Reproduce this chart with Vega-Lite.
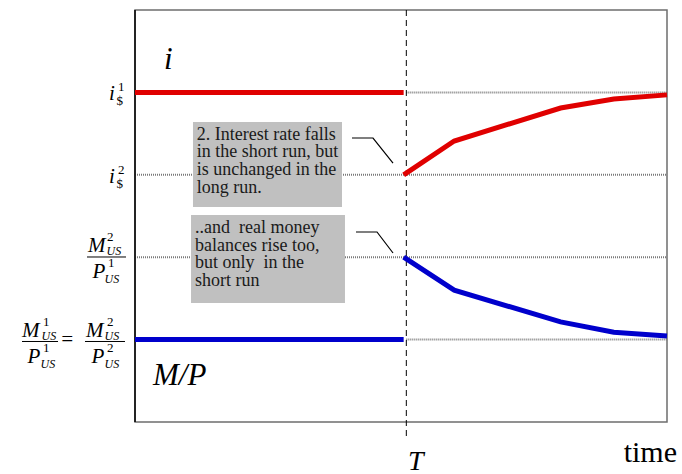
{
  "$schema": "https://vega.github.io/schema/vega-lite/v6.json",
  "width": 532,
  "height": 412,
  "autosize": {"type": "none"},
  "padding": {"left": 135, "top": 10, "right": 15, "bottom": 52},
  "background": "white",
  "config": {
    "view": {"stroke": "#6e6e6e", "strokeWidth": 1.5},
    "text": {"font": "Liberation Serif"}
  },
  "datasets": {
    "dotted": [
      {"x": 51, "x2": 100, "y": 80},
      {"x": 0, "x2": 100, "y": 60},
      {"x": 0, "x2": 100, "y": 40},
      {"x": 51, "x2": 100, "y": 20}
    ],
    "frameLeft": [{"x": 0, "y": 0, "y2": 100}],
    "shock": [{"x": 51, "y": 100, "y2": -3.6}],
    "paths": [
      {"series": "i", "seg": "a", "x": 0, "y": 80},
      {"series": "i", "seg": "a", "x": 50.5, "y": 80},
      {"series": "i", "seg": "b", "x": 50.5, "y": 60},
      {"series": "i", "seg": "b", "x": 60, "y": 68.2},
      {"series": "i", "seg": "b", "x": 80, "y": 76.2},
      {"series": "i", "seg": "b", "x": 90, "y": 78.4},
      {"series": "i", "seg": "b", "x": 100, "y": 79.4},
      {"series": "M/P", "seg": "c", "x": 0, "y": 20},
      {"series": "M/P", "seg": "c", "x": 50.5, "y": 20},
      {"series": "M/P", "seg": "d", "x": 50.5, "y": 40},
      {"series": "M/P", "seg": "d", "x": 60, "y": 32},
      {"series": "M/P", "seg": "d", "x": 80, "y": 24.3},
      {"series": "M/P", "seg": "d", "x": 90, "y": 21.8},
      {"series": "M/P", "seg": "d", "x": 100, "y": 20.9}
    ],
    "boxes": [
      {"x": 10.9, "x2": 38.91, "y": 72.82, "y2": 52.18},
      {"x": 10.53, "x2": 39.47, "y": 50.24, "y2": 28.88}
    ],
    "notes": [
      {"x": 11.6, "y": 71.9, "text": "2. Interest rate falls\nin the short run, but\nis unchanged in the\nlong run."},
      {"x": 11.28, "y": 49.2, "text": "..and\u00a0 real money\nbalances rise too,\nbut only\u00a0 in the\nshort run"}
    ],
    "leaders": [
      {"id": 1, "k": 1, "x": 40.79, "y": 68.93},
      {"id": 1, "k": 2, "x": 44.74, "y": 68.93},
      {"id": 1, "k": 3, "x": 48.5, "y": 62.86},
      {"id": 2, "k": 1, "x": 41.54, "y": 46.12},
      {"id": 2, "k": 2, "x": 45.49, "y": 46.12},
      {"id": 2, "k": 3, "x": 48.5, "y": 41.02}
    ],
    "fracBars": [
      {"x": -9.02, "x2": -1.69, "y": 40.05},
      {"x": -21.24, "x2": -14.47, "y": 19.54},
      {"x": -9.4, "x2": -1.88, "y": 19.54}
    ],
    "mathBig": [
      {"text": "i", "x": -4.89, "y": 78.2},
      {"text": "i", "x": -4.89, "y": 58.0},
      {"text": "M", "x": -8.85, "y": 41.26},
      {"text": "P", "x": -7.99, "y": 34.95},
      {"text": "M", "x": -21.25, "y": 20.75},
      {"text": "P", "x": -20.21, "y": 14.44},
      {"text": "=", "x": -14.1, "y": 18.45},
      {"text": "M", "x": -9.22, "y": 20.75},
      {"text": "P", "x": -8.18, "y": 14.44}
    ],
    "mathSup": [
      {"text": "1", "x": -3.2, "y": 80.3},
      {"text": "$", "x": -3.5, "y": 76.9},
      {"text": "2", "x": -3.2, "y": 60.2},
      {"text": "$", "x": -3.5, "y": 56.8},
      {"text": "2", "x": -5.25, "y": 43.93},
      {"text": "1", "x": -5.06, "y": 37.62},
      {"text": "1", "x": -17.28, "y": 23.42},
      {"text": "1", "x": -17.28, "y": 17.11},
      {"text": "2", "x": -5.25, "y": 23.42},
      {"text": "2", "x": -5.25, "y": 17.11}
    ],
    "mathSub": [
      {"text": "US", "x": -5.34, "y": 40.5},
      {"text": "US", "x": -5.72, "y": 33.7},
      {"text": "US", "x": -17.56, "y": 19.99},
      {"text": "US", "x": -17.75, "y": 13.19},
      {"text": "US", "x": -5.72, "y": 19.99},
      {"text": "US", "x": -5.72, "y": 13.19}
    ],
    "seriesLabels": [
      {"text": "i", "x": 5.45, "y": 85.68},
      {"text": "M/P", "x": 3.38, "y": 8.98}
    ],
    "shockLabel": [{"text": "T", "x": 52.8, "y": -11.6}],
    "timeLabel": [{"text": "time", "x": 101.88, "y": -9.71}]
  },
  "layer": [
    {
      "data": {"name": "dotted"},
      "mark": {"type": "rule", "stroke": "#7a7a7a", "strokeWidth": 2, "strokeDash": [1, 1]},
      "encoding": {
        "x": {"field": "x", "type": "quantitative", "scale": {"domain": [0, 100], "nice": false, "zero": false}, "axis": null},
        "x2": {"field": "x2"},
        "y": {"field": "y", "type": "quantitative", "scale": {"domain": [0, 100], "nice": false, "zero": false}, "axis": null}
      }
    },
    {
      "data": {"name": "frameLeft"},
      "mark": {"type": "rule", "stroke": "#000000", "strokeWidth": 1.5},
      "encoding": {
        "x": {"field": "x", "type": "quantitative"},
        "y": {"field": "y", "type": "quantitative"},
        "y2": {"field": "y2"}
      }
    },
    {
      "data": {"name": "shock"},
      "mark": {"type": "rule", "stroke": "#000000", "strokeWidth": 1, "strokeDash": [6, 4]},
      "encoding": {
        "x": {"field": "x", "type": "quantitative"},
        "y": {"field": "y", "type": "quantitative"},
        "y2": {"field": "y2"}
      }
    },
    {
      "data": {"name": "paths"},
      "mark": {"type": "line", "strokeWidth": 5, "strokeCap": "butt"},
      "encoding": {
        "x": {"field": "x", "type": "quantitative"},
        "y": {"field": "y", "type": "quantitative"},
        "detail": {"field": "seg"},
        "color": {"field": "series", "type": "nominal", "scale": {"domain": ["i", "M/P"], "range": ["#e00000", "#0000cc"]}, "legend": null}
      }
    },
    {
      "data": {"name": "boxes"},
      "mark": {"type": "rect", "fill": "#c0c0c0"},
      "encoding": {
        "x": {"field": "x", "type": "quantitative"},
        "x2": {"field": "x2"},
        "y": {"field": "y", "type": "quantitative"},
        "y2": {"field": "y2"}
      }
    },
    {
      "data": {"name": "notes"},
      "mark": {"type": "text", "align": "left", "baseline": "top", "fontSize": 18, "lineHeight": 17.6, "lineBreak": "\n", "color": "#1a1a1a"},
      "encoding": {
        "x": {"field": "x", "type": "quantitative"},
        "y": {"field": "y", "type": "quantitative"},
        "text": {"field": "text"}
      }
    },
    {
      "data": {"name": "leaders"},
      "mark": {"type": "line", "stroke": "#000000", "strokeWidth": 1.2},
      "encoding": {
        "x": {"field": "x", "type": "quantitative"},
        "y": {"field": "y", "type": "quantitative"},
        "detail": {"field": "id"},
        "order": {"field": "k"}
      }
    },
    {
      "data": {"name": "fracBars"},
      "mark": {"type": "rule", "stroke": "#000000", "strokeWidth": 1},
      "encoding": {
        "x": {"field": "x", "type": "quantitative"},
        "x2": {"field": "x2"},
        "y": {"field": "y", "type": "quantitative"}
      }
    },
    {
      "data": {"name": "mathBig"},
      "mark": {"type": "text", "align": "left", "baseline": "alphabetic", "fontSize": 21, "fontStyle": "italic", "color": "#000000"},
      "encoding": {
        "x": {"field": "x", "type": "quantitative"},
        "y": {"field": "y", "type": "quantitative"},
        "text": {"field": "text"}
      }
    },
    {
      "data": {"name": "mathSup"},
      "mark": {"type": "text", "align": "left", "baseline": "alphabetic", "fontSize": 13, "color": "#000000"},
      "encoding": {
        "x": {"field": "x", "type": "quantitative"},
        "y": {"field": "y", "type": "quantitative"},
        "text": {"field": "text"}
      }
    },
    {
      "data": {"name": "mathSub"},
      "mark": {"type": "text", "align": "left", "baseline": "alphabetic", "fontSize": 12, "fontStyle": "italic", "color": "#000000"},
      "encoding": {
        "x": {"field": "x", "type": "quantitative"},
        "y": {"field": "y", "type": "quantitative"},
        "text": {"field": "text"}
      }
    },
    {
      "data": {"name": "seriesLabels"},
      "mark": {"type": "text", "align": "left", "baseline": "alphabetic", "fontSize": 31, "fontStyle": "italic", "color": "#000000"},
      "encoding": {
        "x": {"field": "x", "type": "quantitative"},
        "y": {"field": "y", "type": "quantitative"},
        "text": {"field": "text"}
      }
    },
    {
      "data": {"name": "shockLabel"},
      "mark": {"type": "text", "align": "center", "baseline": "alphabetic", "fontSize": 28, "fontStyle": "italic", "color": "#000000"},
      "encoding": {
        "x": {"field": "x", "type": "quantitative"},
        "y": {"field": "y", "type": "quantitative"},
        "text": {"field": "text"}
      }
    },
    {
      "data": {"name": "timeLabel"},
      "mark": {"type": "text", "align": "right", "baseline": "alphabetic", "fontSize": 30, "color": "#000000"},
      "encoding": {
        "x": {"field": "x", "type": "quantitative"},
        "y": {"field": "y", "type": "quantitative"},
        "text": {"field": "text"}
      }
    }
  ]
}
